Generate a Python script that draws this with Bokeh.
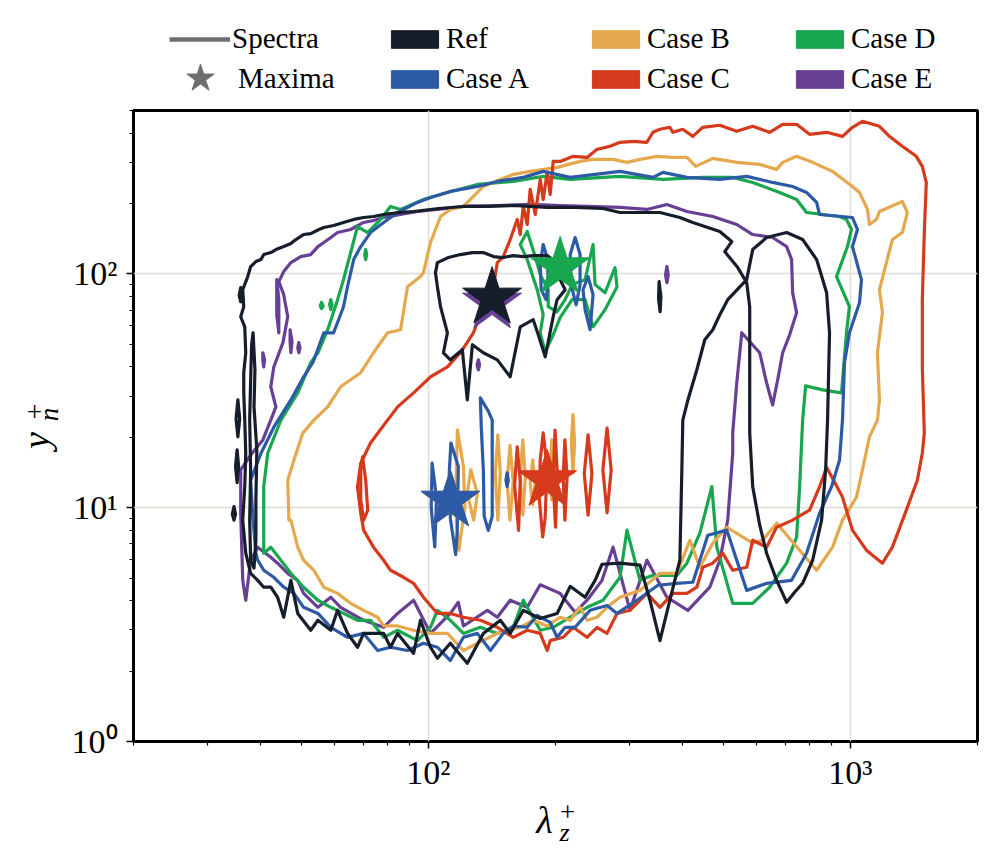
from bokeh.plotting import figure
from bokeh.layouts import column, row
from bokeh.models import (Range1d, FixedTicker, CustomJSTickFormatter, Legend,
                          LegendItem, Label)
from bokeh.embed import file_html
from bokeh.resources import INLINE

# ---------------- data ----------------
case_names = ["Ref", "Case A", "Case B", "Case C", "Case D", "Case E"]
case_colors = ["#161d2b", "#2d5aa6", "#e6a84d", "#d43a1b", "#18a64f", "#673f95"]

# spectral maxima (lambda_z^+, y_n^+)
max_lam = [141.5, 112.7, 112.7, 191.1, 205.1, 141.5]
max_y = [79.1, 10.7, 10.7, 13.1, 106.6, 75.3]

# ---- Ref ----
ref_outer_lam = [37.3, 37.9, 39.0, 40.1, 40.7, 42.3, 43.5, 45.4, 47.2, 48.5, 50.6, 52.6, 55.0, 56.5, 59.6,
                 62.9, 66.5, 70.2, 74.1, 78.3, 84.9, 92.2, 105.6, 121.0, 138.6, 158.8, 174.2, 191.1, 222.6,
                 259.2, 284.4, 317.1, 353.6, 394.2, 423.2, 459.1, 490.2, 523.2, 503.6, 540.6, 567.7, 577.1,
                 577.1, 577.1, 586.6, 609.5, 632.8, 668.4, 706.0, 737.4, 770.3, 813.5, 854.3, 873.2, 882.5,
                 892.1, 878.0, 831.4, 770.3, 706.0, 632.8, 586.6, 567.7, 511.9, 490.2, 471.8, 451.6, 432.5,
                 411.9, 400.6, 398.5, 394.2, 373.3, 353.6, 334.8, 317.1, 284.4, 257.8, 248.2, 235.0, 216.7,
                 201.8, 184.0, 167.8, 156.2, 148.0, 134.9, 123.6, 112.7, 105.0, 101.1, 95.7, 92.2, 84.5,
                 81.3, 78.3, 70.2, 67.9, 64.3, 60.9, 58.7, 54.7, 52.6, 49.0, 47.2, 45.4, 43.9, 42.3, 40.7,
                 39.4, 37.9, 36.9, 36.3, 36.7, 36.9, 36.7, 36.5, 36.5, 36.9, 36.7, 35.9, 36.5, 36.3, 37.3]
ref_outer_y = [97.4, 107.5, 112.9, 115.2, 121.0, 123.4, 127.1, 130.9, 134.8, 140.3, 147.4, 148.8, 154.9, 157.9,
               161.1, 166.0, 171.0, 174.3, 176.0, 179.5, 183.1, 184.9, 190.5, 194.3, 194.3, 196.2, 194.3,
               192.4, 192.4, 190.5, 183.1, 183.1, 183.1, 174.3, 166.0, 157.9, 151.8, 137.5, 124.6, 106.4,
               91.8, 72.4, 47.4, 20.9, 12.3, 8.42, 6.39, 4.89, 3.94, 4.35, 4.75, 5.96, 8.85, 14.5, 23.7,
               56.0, 83.1, 115.2, 140.3, 150.3, 143.1, 127.1, 94.5, 77.6, 66.9, 57.7, 52.3, 38.9, 28.9,
               23.7, 14.5, 5.96, 4.02, 2.70, 4.02, 5.68, 5.79, 5.73, 4.89, 4.14, 4.61, 3.53, 3.36, 3.64,
               2.90, 3.30, 2.90, 2.16, 2.63, 2.27, 2.53, 3.30, 2.38, 2.90, 2.53, 2.90, 2.90, 2.53, 2.90,
               3.64, 2.99, 3.30, 2.99, 3.53, 4.89, 3.40, 4.14, 4.57, 4.57, 4.89, 5.24, 6.39, 8.85, 12.3,
               17.1, 23.7, 31.0, 37.8, 46.0, 59.4, 65.6, 72.4, 85.6, 97.4]
ref_left_lam = [38.4, 38.8, 38.6, 39.2, 39.0, 39.0, 38.6, 37.9, 37.7, 37.9, 37.7, 37.9, 38.1, 38.4]
ref_left_y = [56.0, 38.9, 27.0, 17.7, 10.8, 7.26, 5.51, 5.96, 8.85, 14.5, 23.7, 35.2, 49.8, 56.0]
ref_inner_lam = [105.0, 111.5, 119.0, 127.1, 134.9, 142.5, 150.4, 158.8, 167.8, 177.1, 191.1, 199.6, 205.1,
                 210.8, 201.8, 197.5, 189.1, 182.0, 177.1, 165.0, 156.2, 145.6, 134.9, 127.1, 123.6, 120.3,
                 112.7, 108.5, 110.9, 106.8, 105.0, 103.9, 105.0]
ref_inner_y = [111.8, 117.5, 121.0, 123.4, 123.4, 118.6, 117.5, 119.8, 118.6, 119.8, 119.8, 112.9, 94.5,
               85.6, 77.6, 65.6, 44.2, 55.0, 63.7, 59.4, 36.3, 42.9, 46.0, 49.8, 28.9, 47.4, 42.9, 46.0,
               56.0, 72.4, 88.2, 101.3, 111.8]
ref_isl1_lam = [35.9, 36.2, 35.9, 35.6, 35.9]
ref_isl1_y = [87.4, 81.0, 76.0, 81.0, 87.4]
ref_isl2_lam = [35.35, 35.7, 35.35, 35.0, 35.35]
ref_isl2_y = [28.9, 24.0, 20.1, 24.0, 28.9]
ref_isl3_lam = [35.2, 35.5, 35.2, 34.9, 35.2]
ref_isl3_y = [17.7, 15.0, 12.8, 15.0, 17.7]
ref_isl4_lam = [34.6, 34.9, 34.6, 34.3, 34.6]
ref_isl4_y = [10.1, 9.4, 8.85, 9.4, 10.1]
ref_isl5_lam = [352.0, 355.5, 354.0, 351.0, 352.0]
ref_isl5_y = [92.7, 80.0, 68.9, 78.0, 92.7]

# ---- Case A ----
a_outer_lam = [39.0, 38.4, 37.9, 40.1, 43.0, 47.2, 50.6, 53.2, 56.5, 59.6, 62.9, 64.3, 66.5, 69.1, 72.9, 78.3,
               84.5, 94.2, 101.1, 112.7, 130.6, 145.6, 167.8, 187.0, 216.7, 284.4, 340.4, 359.4, 409.7, 490.2,
               567.7, 654.0, 729.3, 787.0, 831.4, 845.0, 1010.9, 1038.8, 1010.9, 1061.9, 1050.6, 994.5, 967.9,
               957.4, 942.2, 902.0, 845.0, 787.0, 725.3, 632.8, 567.7, 509.2, 459.1, 423.2, 387.9, 349.8,
               312.0, 279.8, 264.9, 241.5, 222.6, 210.8, 201.8, 194.3, 181.0, 171.4, 158.8, 150.4, 140.2,
               130.6, 121.0, 112.7, 105.0, 97.3, 89.2, 81.3, 75.8, 70.2, 64.3, 58.7, 54.7, 50.6, 48.0, 45.4,
               43.0, 40.7, 39.4, 39.0]
a_outer_y = [6.39, 8.85, 13.1, 17.1, 22.1, 28.9, 36.3, 41.7, 56.0, 56.0, 72.4, 88.2, 115.2, 130.9, 150.3, 166.0,
             183.1, 202.2, 212.3, 225.3, 236.6, 248.6, 258.7, 274.5, 258.7, 274.5, 258.7, 271.8, 258.7, 253.7,
             261.3, 246.2, 236.6, 223.1, 202.2, 179.5, 174.3, 154.9, 130.9, 94.5, 75.3, 56.0, 41.7, 23.7,
             16.0, 12.3, 9.48, 6.39, 4.89, 4.75, 4.43, 8.02, 7.63, 4.80, 4.75, 4.66, 4.02, 3.53, 3.82, 3.64,
             3.08, 3.08, 2.79, 3.23, 3.46, 3.08, 3.12, 2.90, 2.45, 2.90, 2.79, 2.22, 2.53, 2.63, 2.45, 2.53,
             2.45, 2.90, 2.79, 3.08, 3.53, 3.75, 4.30, 4.57, 5.04, 5.40, 5.96, 6.39]
a_isl1_lam = [102.0, 104.5, 103.5, 101.5, 102.0]
a_isl1_y = [15.5, 11.0, 6.8, 10.0, 15.5]
a_isl2_lam = [113.0, 117.7, 117.0, 116.0, 112.7, 112.0, 113.0]
a_isl2_y = [18.9, 15.0, 8.0, 6.3, 9.0, 14.0, 18.9]
a_isl3_lam = [132.7, 138.6, 141.6, 141.6, 141.6, 138.6, 135.5, 134.9, 133.4, 132.7]
a_isl3_y = [29.5, 25.9, 23.7, 14.5, 9.2, 8.0, 9.2, 14.5, 22.1, 29.5]
a_isl4_lam = [153.6, 154.6, 153.6, 152.6, 153.6]
a_isl4_y = [14.1, 13.1, 12.3, 13.1, 14.1]
a_isl5_lam = [187.0, 191.1, 192.2, 190.1, 185.0, 184.0, 187.0]
a_isl5_y = [133.5, 117.5, 94.5, 77.6, 85.6, 109.6, 133.5]
a_isl6_lam = [222.6, 228.7, 228.7, 223.8, 217.8, 216.7, 222.6]
a_isl6_y = [143.1, 121.0, 90.0, 73.8, 90.0, 121.0, 143.1]
a_isl7_lam = [238.9, 245.5, 241.5, 235.0, 232.4, 238.9]
a_isl7_y = [97.4, 81.5, 57.7, 70.3, 85.6, 97.4]

# ---- Case B ----
b_outer_lam = [46.7, 46.4, 48.0, 50.4, 53.5, 57.7, 61.9, 69.1, 74.1, 80.0, 85.9, 89.2, 95.7, 97.3, 101.1,
               106.8, 112.7, 121.0, 127.8, 134.9, 148.0, 158.8, 174.2, 201.8, 228.7, 245.5, 273.8, 295.4,
               317.1, 347.8, 379.6, 409.7, 430.1, 471.8, 537.7, 609.5, 668.4, 690.8, 745.4, 813.5, 906.9,
               1010.9, 1050.6, 1097.1, 1109.0, 1152.3, 1171.5, 1327.0, 1364.0, 1327.0, 1257.0, 1216.6,
               1171.5, 1190.5, 1158.5, 1171.5, 1158.5, 1109.0, 1067.6, 1033.2, 957.4, 906.9, 831.4, 757.8,
               668.4, 619.4, 586.6, 509.2, 471.8, 439.6, 416.4, 387.9, 353.6, 317.1, 284.4, 264.9, 250.9,
               237.6, 228.7, 216.7, 205.1, 191.1, 177.1, 165.0, 145.6, 121.0, 110.9, 101.1, 92.2, 84.5,
               78.3, 75.8, 70.2, 65.4, 60.9, 56.5, 53.5, 50.6, 49.0, 47.2, 46.7]
b_outer_y = [8.85, 13.1, 16.0, 20.9, 23.7, 27.0, 32.9, 37.8, 46.0, 56.0, 57.7, 88.2, 97.4, 101.3, 136.2,
             176.0, 188.7, 194.3, 214.5, 236.6, 253.7, 266.5, 274.5, 285.5, 302.9, 309.0, 309.0, 300.0,
             309.0, 318.4, 315.1, 315.1, 288.4, 312.0, 300.0, 294.1, 279.9, 300.0, 318.4, 300.0, 274.5,
             236.6, 223.1, 188.7, 162.7, 171.0, 184.9, 204.2, 183.1, 150.3, 140.3, 111.8, 85.6, 68.3,
             46.0, 28.9, 23.7, 20.1, 14.5, 11.1, 8.85, 6.78, 5.40, 6.58, 8.59, 7.26, 7.05, 8.25, 7.05,
             5.56, 7.26, 5.24, 5.24, 4.43, 4.14, 3.75, 3.40, 3.30, 3.75, 3.30, 3.40, 3.12, 3.30, 3.08,
             2.90, 2.45, 2.90, 2.90, 2.99, 3.12, 3.12, 3.40, 3.64, 3.90, 4.30, 4.57, 5.40, 5.96, 6.78,
             8.85, 8.85]
b_isl1_lam = [117.1, 121.0, 122.0, 118.0, 115.9, 116.5, 117.1]
b_isl1_y = [21.5, 15.0, 10.0, 6.58, 10.0, 15.0, 21.5]
b_isl2_lam = [126.0, 130.6, 128.0, 123.6, 126.0]
b_isl2_y = [14.5, 11.5, 8.85, 11.5, 14.5]
b_isl3_lam = [146.0, 148.0, 146.0, 144.0, 146.0]
b_isl3_y = [20.5, 14.0, 8.85, 14.0, 20.5]
b_isl4_lam = [156.0, 158.8, 156.0, 153.6, 156.0]
b_isl4_y = [18.5, 13.0, 8.85, 13.0, 18.5]
b_isl5_lam = [167.3, 169.6, 167.3, 165.0, 167.3]
b_isl5_y = [19.5, 13.5, 9.3, 13.5, 19.5]
b_isl6_lam = [176.6, 179.1, 176.6, 174.2, 176.6]
b_isl6_y = [16.0, 12.8, 10.3, 12.8, 16.0]
b_isl7_lam = [195.9, 197.5, 195.9, 194.3, 195.9]
b_isl7_y = [19.5, 14.5, 10.8, 14.5, 19.5]
b_isl8_lam = [220.0, 222.0, 220.0, 218.0, 220.0]
b_isl8_y = [25.0, 19.0, 14.1, 19.0, 25.0]

# ---- Case C ----
c_outer_lam = [67.9, 69.1, 72.9, 78.3, 84.5, 92.2, 101.1, 110.9, 119.0, 127.8, 134.9, 142.5, 145.6, 150.4,
               156.2, 162.3, 165.0, 167.8, 171.4, 174.2, 179.1, 184.0, 187.0, 191.1, 194.3, 197.5, 205.1,
               220.2, 237.6, 250.9, 269.3, 284.4, 305.3, 329.4, 340.4, 353.6, 373.3, 379.6, 400.6, 423.2,
               446.8, 490.2, 537.7, 586.6, 643.5, 690.8, 745.4, 800.0, 878.0, 957.4, 1010.9, 1067.6, 1171.5,
               1236.6, 1327.0, 1432.2, 1480.0, 1512.5, 1496.2, 1480.0, 1480.0, 1496.2, 1480.0, 1440.1,
               1356.5, 1257.0, 1190.5, 1091.0, 1010.9, 957.4, 878.0, 845.0, 800.0, 729.3, 668.4, 632.8,
               586.6, 567.7, 526.0, 498.2, 471.8, 446.8, 432.5, 409.7, 379.6, 353.6, 329.4, 300.3, 279.8,
               264.9, 250.9, 237.6, 220.2, 208.5, 194.3, 191.1, 184.0, 171.4, 158.8, 145.6, 132.7, 121.0,
               112.7, 105.0, 97.3, 92.2, 87.3, 81.3, 78.3, 74.1, 70.2, 69.1, 67.9]
c_outer_y = [12.3, 15.5, 18.9, 22.5, 27.0, 31.0, 36.3, 40.0, 46.0, 56.0, 72.4, 88.2, 111.8, 118.6, 140.3,
             171.0, 147.4, 194.3, 162.7, 229.9, 179.5, 253.7, 208.2, 271.8, 218.8, 302.9, 302.9, 318.4,
             315.1, 341.0, 351.4, 365.6, 369.2, 365.6, 403.4, 415.5, 423.8, 403.4, 415.5, 387.7, 423.8,
             432.3, 407.4, 428.0, 403.4, 436.5, 436.5, 395.5, 403.4, 387.7, 423.8, 449.6, 428.0, 387.7,
             351.4, 318.4, 288.4, 246.2, 150.3, 77.6, 40.0, 20.9, 17.1, 13.1, 9.76, 6.78, 5.79, 6.58,
             8.02, 11.1, 14.9, 12.3, 9.76, 8.85, 8.25, 6.78, 7.26, 5.56, 5.40, 6.39, 5.79, 5.56, 4.57,
             4.30, 4.30, 3.75, 4.30, 3.64, 3.53, 2.90, 3.08, 2.79, 3.08, 2.79, 2.70, 2.45, 2.90, 2.99,
             2.79, 3.08, 3.30, 3.40, 3.53, 3.53, 4.14, 4.75, 5.04, 5.40, 5.96, 6.78, 8.02, 9.48, 12.3]
c_isl0_lam = [69.8, 71.0, 71.8, 70.2, 69.1, 69.1, 69.8]
c_isl0_y = [16.5, 13.1, 9.76, 8.85, 10.8, 14.5, 16.5]
c_isl1_lam = [162.3, 165.0, 163.5, 160.0, 162.3]
c_isl1_y = [18.2, 13.0, 8.0, 12.5, 18.2]
c_isl2_lam = [187.0, 191.0, 189.0, 186.5, 183.0, 184.0, 187.0]
c_isl2_y = [20.9, 15.0, 9.0, 7.5, 11.0, 16.0, 20.9]
c_isl3_lam = [199.5, 202.0, 200.0, 197.5, 199.5]
c_isl3_y = [21.5, 14.0, 8.25, 13.0, 21.5]
c_isl4_lam = [210.5, 213.0, 210.5, 208.5, 210.5]
c_isl4_y = [19.5, 13.5, 8.85, 13.5, 19.5]
c_isl5_lam = [238.9, 244.0, 238.9, 234.0, 238.9]
c_isl5_y = [20.5, 14.0, 9.3, 14.0, 20.5]
c_isl6_lam = [265.0, 271.0, 265.0, 259.0, 265.0]
c_isl6_y = [21.9, 14.5, 9.5, 14.5, 21.9]

# ---- Case D ----
d_outer_lam = [40.7, 40.7, 40.7, 41.6, 44.7, 49.0, 52.6, 54.7, 57.7, 60.9, 62.9, 65.4, 67.9, 71.8, 77.0,
               81.3, 85.9, 97.3, 110.9, 130.6, 158.8, 187.0, 216.7, 284.4, 359.4, 446.8, 526.0, 586.6,
               679.6, 745.4, 787.0, 942.2, 978.4, 1005.5, 983.8, 926.7, 994.5, 978.4, 952.2, 858.8, 782.9,
               770.3, 757.8, 745.4, 706.0, 643.5, 586.6, 526.0, 482.3, 469.3, 439.6, 409.7, 387.9, 340.4,
               317.1, 295.4, 284.4, 259.2, 237.6, 216.7, 197.5, 184.0, 167.8, 158.8, 145.6, 132.7, 121.0,
               112.7, 105.0, 101.1, 94.2, 84.5, 78.3, 72.9, 67.9, 62.9, 58.7, 54.7, 50.6, 47.2, 44.7,
               42.3, 40.7]
d_outer_y = [6.39, 8.85, 12.3, 17.1, 23.7, 31.0, 41.7, 46.0, 57.7, 77.6, 94.5, 123.4, 159.5, 150.3, 171.0,
             194.3, 188.7, 208.2, 223.1, 241.4, 248.6, 261.3, 253.7, 261.3, 253.7, 258.7, 258.7, 246.2,
             223.1, 208.2, 183.1, 176.0, 171.0, 154.9, 130.9, 97.4, 72.4, 56.0, 31.0, 31.9, 33.2, 23.7,
             12.3, 7.48, 5.79, 4.57, 3.90, 3.90, 6.78, 12.3, 7.78, 5.79, 5.14, 5.14, 4.89, 8.02, 5.04,
             4.02, 3.75, 3.40, 3.08, 2.99, 4.02, 3.08, 2.90, 3.08, 2.90, 3.30, 3.64, 3.08, 2.70, 2.99,
             2.79, 3.30, 3.30, 3.53, 3.75, 4.02, 4.57, 5.24, 5.96, 6.78, 6.39]
d_inner_lam = [171.4, 179.1, 184.0, 192.2, 192.2, 201.8, 210.8, 219.0, 235.0, 245.5, 248.2, 262.1, 276.7,
               279.8, 262.1, 245.5, 235.0, 219.0, 205.1, 197.5, 189.1, 184.0, 187.0, 181.0, 171.4, 165.0,
               171.4]
d_inner_y = [151.8, 118.6, 99.3, 85.6, 72.4, 68.9, 77.6, 90.0, 94.5, 133.5, 90.0, 83.1, 106.4, 88.2, 70.3,
             59.4, 77.6, 77.6, 65.0, 54.9, 46.4, 56.0, 66.9, 85.6, 115.2, 133.5, 151.8]
d_isl1_lam = [55.8, 56.3, 55.8, 55.4, 55.8]
d_isl1_y = [75.5, 73.0, 71.0, 73.0, 75.5]
d_isl2_lam = [58.7, 59.1, 58.7, 58.3, 58.7]
d_isl2_y = [77.6, 74.0, 70.3, 74.0, 77.6]
d_isl3_lam = [71.0, 71.4, 71.0, 70.6, 71.0]
d_isl3_y = [127.0, 121.0, 115.0, 121.0, 127.0]

# ---- Case E ----
e_outer_lam = [44.2, 45.4, 47.2, 48.5, 49.8, 52.6, 54.7, 56.5, 58.7, 60.9, 65.4, 70.2, 74.1, 78.3, 85.9,
               94.2, 105.0, 121.0, 145.6, 174.2, 205.1, 237.6, 284.4, 329.4, 367.3, 409.7, 471.8, 537.7,
               586.6, 654.0, 706.0, 725.3, 729.3, 745.4, 717.6, 690.8, 672.1, 654.0, 632.8, 609.5, 552.6,
               537.7, 526.0, 526.0, 511.9, 490.2, 464.2, 411.9, 367.3, 329.4, 300.3, 273.8, 257.8, 237.6,
               222.6, 205.1, 184.0, 171.4, 156.2, 145.6, 137.9, 121.0, 117.7, 112.7, 101.1, 92.2, 84.5,
               78.3, 70.2, 61.9, 58.7, 54.7, 50.6, 49.0, 46.4, 43.9, 42.3, 39.4, 37.9, 36.9, 36.3, 35.9,
               35.9, 37.9, 40.5, 42.3, 43.5, 42.3, 43.0, 45.2, 46.4, 45.4, 44.2]
e_outer_y = [92.7, 102.3, 111.8, 115.2, 118.6, 121.0, 130.9, 136.2, 143.1, 150.3, 154.9, 166.0, 169.2,
             174.3, 179.5, 184.9, 188.7, 194.3, 196.2, 198.2, 196.2, 194.3, 192.4, 188.7, 198.2, 184.9,
             176.0, 162.7, 147.4, 143.1, 130.9, 115.2, 83.1, 68.3, 54.9, 46.0, 35.2, 27.5, 34.2, 46.0,
             56.0, 34.2, 20.9, 17.1, 8.85, 5.96, 4.57, 3.64, 4.14, 5.96, 3.64, 6.78, 4.89, 4.02, 3.57,
             4.30, 4.68, 3.75, 4.02, 3.40, 3.64, 3.12, 3.94, 3.53, 2.90, 4.02, 3.53, 3.08, 3.30, 3.75,
             4.14, 3.75, 4.30, 4.89, 5.24, 5.79, 6.14, 6.78, 5.96, 4.02, 4.89, 9.48, 14.5, 16.8, 19.5,
             23.7, 27.0, 32.9, 40.0, 50.8, 65.6, 81.5, 92.7]
e_isl1_lam = [43.7, 44.2, 44.2, 43.7, 43.7]
e_isl1_y = [94.5, 77.6, 56.0, 66.9, 94.5]
e_isl2_lam = [40.5, 40.9, 40.7, 40.5, 40.5]
e_isl2_y = [46.0, 42.9, 40.0, 42.9, 46.0]
e_isl3_lam = [47.0, 47.5, 47.2, 47.0, 47.0]
e_isl3_y = [57.7, 51.3, 46.0, 51.3, 57.7]
e_isl4_lam = [49.3, 49.6, 49.3, 49.0, 49.3]
e_isl4_y = [50.8, 48.3, 46.0, 48.3, 50.8]
e_isl5_lam = [131.3, 132.2, 131.3, 130.4, 131.3]
e_isl5_y = [42.9, 40.8, 38.9, 40.8, 42.9]
e_isl6_lam = [367.3, 370.0, 367.3, 364.6, 367.3]
e_isl6_y = [107.5, 99.0, 91.8, 99.0, 107.5]

# tick positions
x_major = [100, 1000]
x_minor = [20, 30, 40, 50, 60, 70, 80, 90, 200, 300, 400, 500, 600, 700, 800, 900, 2000]
y_major = [1, 10, 100]
y_minor = [2, 3, 4, 5, 6, 7, 8, 9, 20, 30, 40, 50, 60, 70, 80, 90, 200, 300, 400, 500]

# ---------------- layout constants ----------------
FONT = "Liberation Serif"
TOTAL_W = 987
LEG_H = 100
YLAB_W = 66
FRAME_W, FRAME_H = 844, 631
P_LEFT, P_RIGHT, P_TOP, P_BOTTOM = 67, 10, 10, 51
P_H = P_TOP + FRAME_H + P_BOTTOM
XLAB_H = 59


def blank_fig(w, h):
    f = figure(width=w, height=h, x_range=Range1d(0, 1), y_range=Range1d(0, 1),
               x_axis_location=None, y_axis_location=None, min_border=0,
               output_backend="svg", toolbar_location=None,
               background_fill_color="white", border_fill_color="white")
    f.outline_line_color = None
    f.grid.visible = False
    return f


# ---------------- main figure ----------------
p = figure(x_axis_type="log", y_axis_type="log",
           x_range=Range1d(20, 2000), y_range=Range1d(1, 500),
           frame_width=FRAME_W, frame_height=FRAME_H,
           min_border_left=P_LEFT, min_border_right=P_RIGHT,
           min_border_top=P_TOP, min_border_bottom=P_BOTTOM,
           output_backend="svg", toolbar_location=None,
           background_fill_color="white", border_fill_color="white")

p.outline_line_color = "black"
p.outline_line_width = 3

sup_code = """
const s = {"0": "\u2070", "1": "\u00b9", "2": "\u00b2", "3": "\u00b3"};
const e = Math.round(Math.log10(tick));
return "10" + String(e).split("").map(c => s[c]).join("");
"""
for ax, maj, mnr, sto in ((p.xaxis[0], x_major, x_minor, 5), (p.yaxis[0], y_major, y_minor, 9)):
    ax.ticker = FixedTicker(ticks=maj, minor_ticks=mnr)
    ax.formatter = CustomJSTickFormatter(code=sup_code)
    ax.axis_line_color = None
    ax.major_tick_out = 7
    ax.major_tick_in = 0
    ax.minor_tick_out = 4
    ax.minor_tick_in = 0
    ax.major_tick_line_width = 1.5
    ax.minor_tick_line_width = 1.2
    ax.major_tick_line_color = "black"
    ax.minor_tick_line_color = "black"
    ax.major_label_text_font = FONT
    ax.major_label_text_font_size = "34px"
    ax.major_label_text_color = "black"
    ax.major_label_standoff = sto

p.xgrid.ticker = FixedTicker(ticks=x_major)
p.ygrid.ticker = FixedTicker(ticks=[10, 100])
p.grid.grid_line_color = "#dcdcd6"
p.grid.grid_line_width = 1.5

series = {
    "Case E": [(e_outer_lam, e_outer_y), (e_isl1_lam, e_isl1_y), (e_isl2_lam, e_isl2_y),
               (e_isl3_lam, e_isl3_y), (e_isl4_lam, e_isl4_y), (e_isl5_lam, e_isl5_y),
               (e_isl6_lam, e_isl6_y)],
    "Case D": [(d_outer_lam, d_outer_y), (d_inner_lam, d_inner_y), (d_isl1_lam, d_isl1_y),
               (d_isl2_lam, d_isl2_y), (d_isl3_lam, d_isl3_y)],
    "Case B": [(b_outer_lam, b_outer_y), (b_isl1_lam, b_isl1_y), (b_isl2_lam, b_isl2_y),
               (b_isl3_lam, b_isl3_y), (b_isl4_lam, b_isl4_y), (b_isl5_lam, b_isl5_y),
               (b_isl6_lam, b_isl6_y), (b_isl7_lam, b_isl7_y), (b_isl8_lam, b_isl8_y)],
    "Case C": [(c_outer_lam, c_outer_y), (c_isl0_lam, c_isl0_y), (c_isl1_lam, c_isl1_y),
               (c_isl2_lam, c_isl2_y), (c_isl3_lam, c_isl3_y), (c_isl4_lam, c_isl4_y),
               (c_isl5_lam, c_isl5_y), (c_isl6_lam, c_isl6_y)],
    "Case A": [(a_outer_lam, a_outer_y), (a_isl1_lam, a_isl1_y), (a_isl2_lam, a_isl2_y),
               (a_isl3_lam, a_isl3_y), (a_isl4_lam, a_isl4_y), (a_isl5_lam, a_isl5_y),
               (a_isl6_lam, a_isl6_y), (a_isl7_lam, a_isl7_y)],
    "Ref": [(ref_outer_lam, ref_outer_y), (ref_left_lam, ref_left_y), (ref_inner_lam, ref_inner_y),
            (ref_isl1_lam, ref_isl1_y), (ref_isl2_lam, ref_isl2_y), (ref_isl3_lam, ref_isl3_y),
            (ref_isl4_lam, ref_isl4_y), (ref_isl5_lam, ref_isl5_y)],
}
color_of = dict(zip(case_names, case_colors))

for name, loops in series.items():
    p.multi_line(xs=[l[0] for l in loops], ys=[l[1] for l in loops],
                 line_color=color_of[name], line_width=3.2,
                 line_join="round", line_cap="round")

# maxima stars (drawn on top)
for name in ["Case B", "Case E", "Ref", "Case A", "Case C", "Case D"]:
    i = case_names.index(name)
    p.scatter(x=[max_lam[i]], y=[max_y[i]], marker="star", size=62,
              fill_color=case_colors[i], line_color=case_colors[i], line_width=1)

# ---------------- legend figure (above) ----------------
# the legend proxies sit outside this figure's visible range; only their legend glyphs show
GRAY = "#6e6e6e"
lf = blank_fig(TOTAL_W, LEG_H)
r_spec = lf.line(x=[5, 6], y=[5, 5], line_color=GRAY, line_width=4.5)
r_max = lf.scatter(x=[5], y=[5], marker="star", fill_color=GRAY, line_color=GRAY)
patch_r = {}
for name, col in zip(case_names, case_colors):
    patch_r[name] = lf.quad(left=[5], right=[6], top=[6], bottom=[5], fill_color=col,
                            line_color=col, line_width=1)


def add_legend(items, loc, gw, gh, spacing=7):
    lg = Legend(items=items, location=loc, orientation="vertical",
                glyph_width=gw, glyph_height=gh, label_standoff=2, spacing=spacing,
                padding=0, margin=0, border_line_alpha=0, background_fill_alpha=0,
                label_text_font=FONT, label_text_font_size="29px",
                label_text_color="black", label_height=gh)
    lf.add_layout(lg)
    return lg


add_legend([LegendItem(label="Spectra", renderers=[r_spec])], (169, 45), 61, 22)
add_legend([LegendItem(label="Maxima", renderers=[r_max])], (164, -14), 72, 72)
add_legend([LegendItem(label="Ref", renderers=[patch_r["Ref"]]),
            LegendItem(label="Case A", renderers=[patch_r["Case A"]])], (385, 5), 59, 22)
add_legend([LegendItem(label="Case B", renderers=[patch_r["Case B"]]),
            LegendItem(label="Case C", renderers=[patch_r["Case C"]])], (586, 5), 59, 22)
add_legend([LegendItem(label="Case D", renderers=[patch_r["Case D"]]),
            LegendItem(label="Case E", renderers=[patch_r["Case E"]])], (790, 5), 59, 22)


def lab(fig, text, x, y, size, italic=True, angle=0):
    fig.add_layout(Label(x=x, y=y, x_units="screen", y_units="screen", text=text,
                         text_font=FONT, text_font_size=size,
                         text_font_style="italic" if italic else "normal",
                         text_baseline="middle", text_align="center", angle=angle,
                         text_color="black"))


# ---------------- y-axis title figure (left) ----------------
yf = blank_fig(YLAB_W, P_H)
lab(yf, "y", 35, 300, "38px", angle=1.5708)
lab(yf, "n", 48, 326, "27px", angle=1.5708)
lab(yf, "+", 34, 329, "28px", italic=False, angle=1.5708)

# ---------------- x-axis title figure (below) ----------------
xf = blank_fig(TOTAL_W, XLAB_H)
lab(xf, "λ", 544, XLAB_H - 26, "38px")
lab(xf, "+", 567, XLAB_H - 18, "27px", italic=False)
lab(xf, "z", 564, XLAB_H - 39, "26px")

layout = column(lf, row(yf, p), xf)
open("out.html", "w").write(file_html(layout, INLINE))
